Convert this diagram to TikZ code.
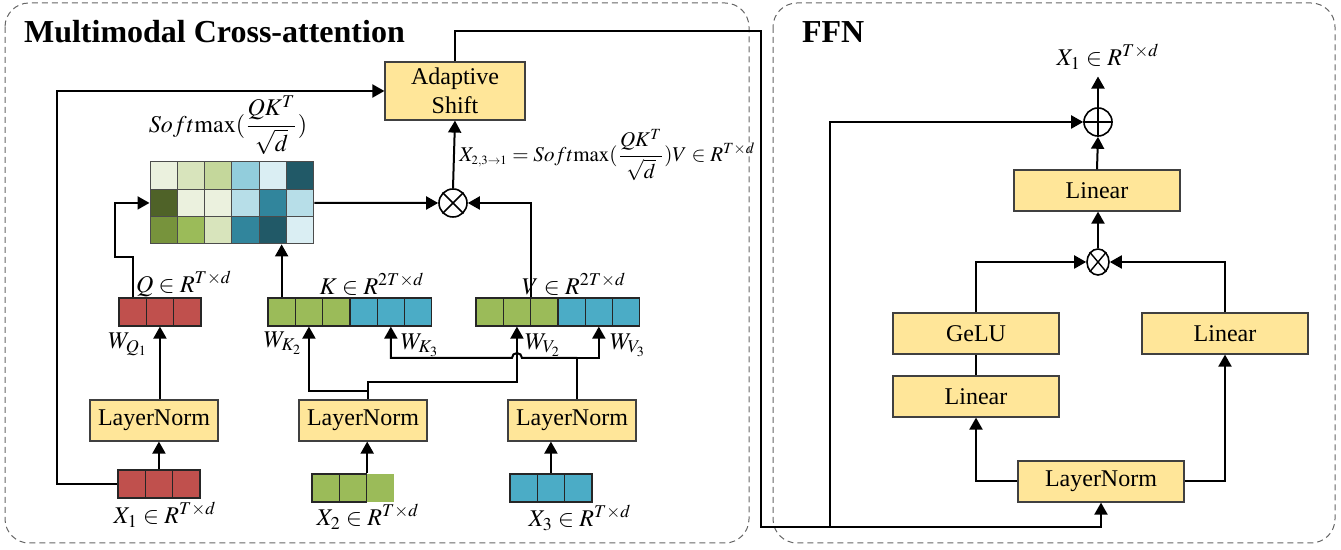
\documentclass[tikz,border=0pt]{standalone}
\usepackage{amsmath}
\usepackage{mathptmx}
\usepackage{fontspec}
\setmainfont{Liberation Serif}
\usetikzlibrary{positioning,calc,arrows.meta,shapes.geometric}
\definecolor{redtok}{HTML}{C0504D}
\definecolor{greentok}{HTML}{9BBB59}
\definecolor{bluetok}{HTML}{4BACC6}
\definecolor{boxfill}{HTML}{FFE699}
\definecolor{ga}{HTML}{EBF1DE}
\definecolor{gb}{HTML}{D8E4BC}
\definecolor{gc}{HTML}{C4D79B}
\definecolor{gd}{HTML}{4F6228}
\definecolor{ge}{HTML}{77933C}
\definecolor{ba}{HTML}{DAEEF3}
\definecolor{bb}{HTML}{B7DEE8}
\definecolor{bc}{HTML}{92CDDC}
\definecolor{bd}{HTML}{31859C}
\definecolor{be}{HTML}{215967}
% one row of token cells: name, left x, centre y, colours
\newcommand{\tokrow}[4]{\foreach \c [count=\i] in {#4} \node[cell,fill=\c] (#1\i) at (#2+27.3*\i-13.65,#3) {};}
\newcommand{\smax}{Soft\mathrm{max}(\dfrac{QK^T}{\sqrt{d}})}

\begin{document}
\begin{tikzpicture}[x=0.5pt,y=-0.5pt,
  font=\fontsize{12}{14.5}\selectfont,
  box/.style={draw=black!75,fill=boxfill,line width=0.6pt,inner sep=0pt,minimum width=64pt,minimum height=20.5pt},
  cell/.style={draw=black!85,line width=0.6pt,inner sep=0pt,minimum width=13.65pt,minimum height=14pt},
  mcell/.style={draw=black!70,line width=0.5pt,inner sep=0pt,minimum size=13.65pt},
  arr/.style={line width=1pt,-{Triangle[length=6pt,width=6.5pt]}},
  wire/.style={line width=1pt},
  panel/.style={draw=black!60,line width=0.5pt,dash pattern=on 3pt off 2pt,rounded corners=12pt},
  op/.style={draw,circle,line width=0.8pt,minimum size=14pt,inner sep=0pt}]
\useasboundingbox (0,0) rectangle (1341,550);
\draw[panel] (5,3) rectangle (749,543);
\draw[panel] (773,3) rectangle (1335,543);
\node[anchor=west,font=\fontsize{16}{18}\selectfont\bfseries] (ttl) at (17,32) {Multimodal Cross-attention};
\node[anchor=west,font=\fontsize{16}{18}\selectfont\bfseries] (ffnttl) at (795,32) {FFN};
%
% cross-attention
\node[box] (ln1) at (154,420.5) {LayerNorm};
\node[box] (ln2) at (363,420.5) {LayerNorm};
\node[box] (ln3) at (572,420.5) {LayerNorm};
\node[box,minimum width=70pt,minimum height=29pt,align=center] (shift) at (455,91) {Adaptive\\Shift};
\tokrow{q}{119}{312}{redtok,redtok,redtok}
\tokrow{k}{268}{312}{greentok,greentok,greentok,bluetok,bluetok,bluetok}
\tokrow{v}{476}{312}{greentok,greentok,greentok,bluetok,bluetok,bluetok}
\tokrow{xa}{118}{484}{redtok,redtok,redtok}
\tokrow{xb}{312}{488}{greentok,greentok}
\node[cell,draw=none,fill=greentok] (xb3) at (312+27.3*2.5,488) {};
\tokrow{xc}{510}{488}{bluetok,bluetok,bluetok}
\foreach \row [count=\r] in {{ga,gb,gc,bc,ba,be},{gd,ga,ga,bb,bd,bb},{ge,greentok,gb,bd,be,ba}}
  \foreach \c [count=\k] in \row
    \node[mcell,fill=\c] (m\r\k) at (150+27.3*\k-13.65,162+27.3*\r-13.65) {};
\node[op] (mul) at (453,203) {};
\draw[line width=0.8pt] (mul.45) -- (mul.225) (mul.135) -- (mul.315);
%
\node[inner sep=1pt] (smx) at (228,125) {$\smax$};
\node[anchor=west,inner sep=1pt,font=\fontsize{10.5}{12}\selectfont] (eqn) at (457,155)
  {$X_{\scriptscriptstyle 2,3\rightarrow 1}=\smax V\in R^{T\times d}$};
\node (qlbl) at (184,284) {$Q\in R^{T\times d}$};
\node (klbl) at (372,284) {$K\in R^{2T\times d}$};
\node (vlbl) at (574,284) {$V\in R^{2T\times d}$};
\node (wq) at (128,344) {$W_{Q_1}$};
\node (wk2) at (283,343) {$W_{K_2}$};
\node (wk3) at (420,345) {$W_{K_3}$};
\node (wv2) at (543,345) {$W_{V_2}$};
\node (wv3) at (628,345) {$W_{V_3}$};
\node (xalbl) at (165,515) {$X_1\in R^{T\times d}$};
\node (xblbl) at (368,517) {$X_2\in R^{T\times d}$};
\node (xclbl) at (580,518) {$X_3\in R^{T\times d}$};
%
\draw[arr] (xa1.west) -- ++(-60,0) |- (shift.west);
\draw[arr] (xa2.north) -- (xa2.north |- ln1.south);
\draw[arr] (xb2.north east) -- (xb2.north east |- ln2.south);
\draw[arr] (xc2.north) -- (xc2.north |- ln3.south);
\draw[arr] (ln1.north -| q2) -- (q2.south);
\draw[arr] (q1.north) -- ++(0,-40) -- ++(-18,0) |- (m21.west);
\draw[arr] (k1.north) -- (k1.north |- m35.south);
\draw[arr] (v2.north east) |- (mul.east);
\draw[arr] (m26.east) -- (mul.west);
\draw[arr] (mul.north) -- (shift.south);
\coordinate (j2) at (368,391);
\coordinate (j3) at (577,358);
\draw[wire] (ln2.north -| j2) -- (j2);
\draw[arr] (j2) -| (k2.south);
\draw[arr] (j2) -- ++(0,-9) -| (v2.south);
\draw[wire] (ln3.north -| j3) -- (j3);
\draw[arr] (j3) -| (v5.south);
\draw[arr] (j3) -- ($(v2.south |- j3)+(5,0)$) arc[start angle=0,end angle=180,radius=2.5pt] -| (k5.south);
%
% FFN
\node[box,minimum width=83pt] (lnf) at (1101,481.5) {LayerNorm};
\node[box,minimum width=83pt] (linl) at (976,396.5) {Linear};
\node[box,minimum width=83pt] (gelu) at (976,333.5) {GeLU};
\node[box,minimum width=83pt] (linr) at (1225,333.5) {Linear};
\node[box,minimum width=83pt] (lint) at (1097,190.5) {Linear};
\node[op,ellipse,minimum width=11pt,minimum height=13pt] (mulf) at (1098,262) {};
\draw[line width=0.7pt] (mulf.50) -- (mulf.230) (mulf.130) -- (mulf.310);
\node[op] (add) at (1098,122) {};
\draw[line width=0.8pt] (add.north) -- (add.south) (add.west) -- (add.east);
\node (xout) at (1108,57) {$X_1\in R^{T\times d}$};
\coordinate (turn) at (761,527);
\coordinate (split) at (830,527);
\draw[arr] (shift.north) -- ++(0,-30) -| (turn) -| (lnf.south);
\draw[arr] (split) |- (add.west);
\draw[arr] (add.north) -- (add.north |- xout.south);
\draw[arr] (lint.north) -- (add.south);
\draw[arr] (mulf.north) -- (mulf.north |- lint.south);
\draw[arr] (gelu.north) |- (mulf.west);
\draw[arr] (linr.north) |- (mulf.east);
\draw[wire] (linl.north) -- (gelu.south);
\draw[arr] (lnf.west) -| (linl.south);
\draw[arr] (lnf.east) -| (linr.south);
\end{tikzpicture}
\end{document}
